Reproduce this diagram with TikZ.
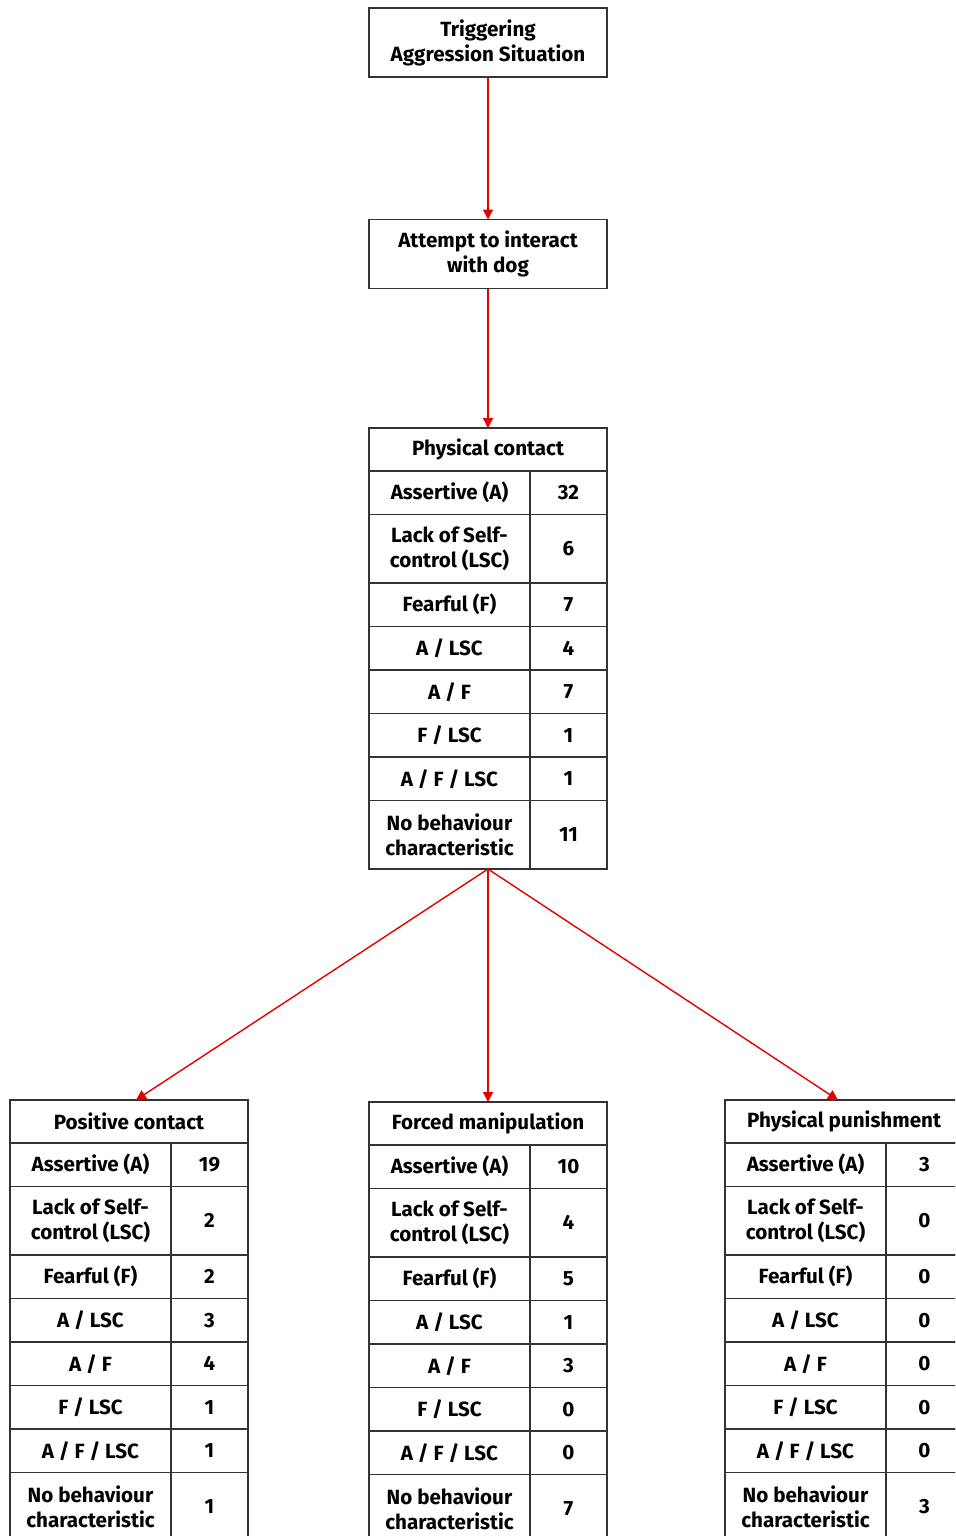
\documentclass[tikz,border=0pt]{standalone}
\usepackage{fontspec}
\setmainfont{Fira Sans}
\usetikzlibrary{positioning,arrows.meta}

% row labels, same in every table
\newcommand{\behlabel}[1]{\ifcase#1\or Assertive (A)\or Lack of Self-\\control (LSC)\or Fearful (F)\or A / LSC\or A / F\or F / LSC\or A / F / LSC\or No behaviour\\characteristic\fi}

% table: name, centre of title row, title, counts
\newcommand{\behtable}[4]{%
  \node[thead, alias=#1-l0] (#1) at (#2) {#3};
  \foreach \v [count=\i, remember=\i as \j (initially 0)] in {#4} {
    \pgfmathsetmacro\rh{(\i==2||\i==8)?34.25:21.75}
    \node[lcell, minimum height=\rh*1pt, anchor=north west] (#1-l\i) at (#1-l\j.south west) {\behlabel{\i}};
    \node[vcell, minimum height=\rh*1pt, anchor=west] (#1-v\i) at (#1-l\i.east) {\v};
  }
}

\begin{document}
\begin{tikzpicture}[
    x=0.5pt, y=-0.5pt,
    font=\fontsize{10.3}{12.5}\selectfont\bfseries,
    box/.style={draw=black!80, line width=0.9pt, align=center,
                minimum width=119pt, minimum height=34.5pt, inner sep=0pt, outer sep=0pt},
    thead/.style={box, minimum height=21.5pt},
    lcell/.style={draw=black!80, line width=0.9pt, align=center,
                  minimum width=80.5pt, inner sep=0pt, outer sep=0pt},
    vcell/.style={lcell, minimum width=38.5pt},
    flow/.style={-{Triangle[length=5pt,width=5pt]}, red!90!black, line width=0.7pt}]

    \path[use as bounding box, clip] (0,0) rectangle (955,1536);

    \node[box] (trigger) at (488,42.5) {Triggering\\Aggression Situation};
    \node[box] (attempt) at (488,254)  {Attempt to interact\\with dog};

    \behtable{pc}{488,449.5}{Physical contact}{32,6,7,4,7,1,1,11}
    \behtable{pos}{129,1121.5}{Positive contact}{19,2,2,3,4,1,1,1}
    \behtable{forced}{488,1123.5}{Forced manipulation}{10,4,5,1,3,0,0,7}
    \behtable{punish}{844,1121.5}{Physical punishment}{3,0,0,0,0,0,0,3}

    \coordinate (pc-bot) at (pc |- pc-l8.south);

    \draw[flow] (trigger) -- (attempt);
    \draw[flow] (attempt) -- (pc);
    \draw[flow] (pc-bot) -- ([xshift=3.5pt]pos.north);
    \draw[flow] (pc-bot) -- (forced.north);
    \draw[flow] (pc-bot) -- ([xshift=-3pt]punish.north);
\end{tikzpicture}
\end{document}
